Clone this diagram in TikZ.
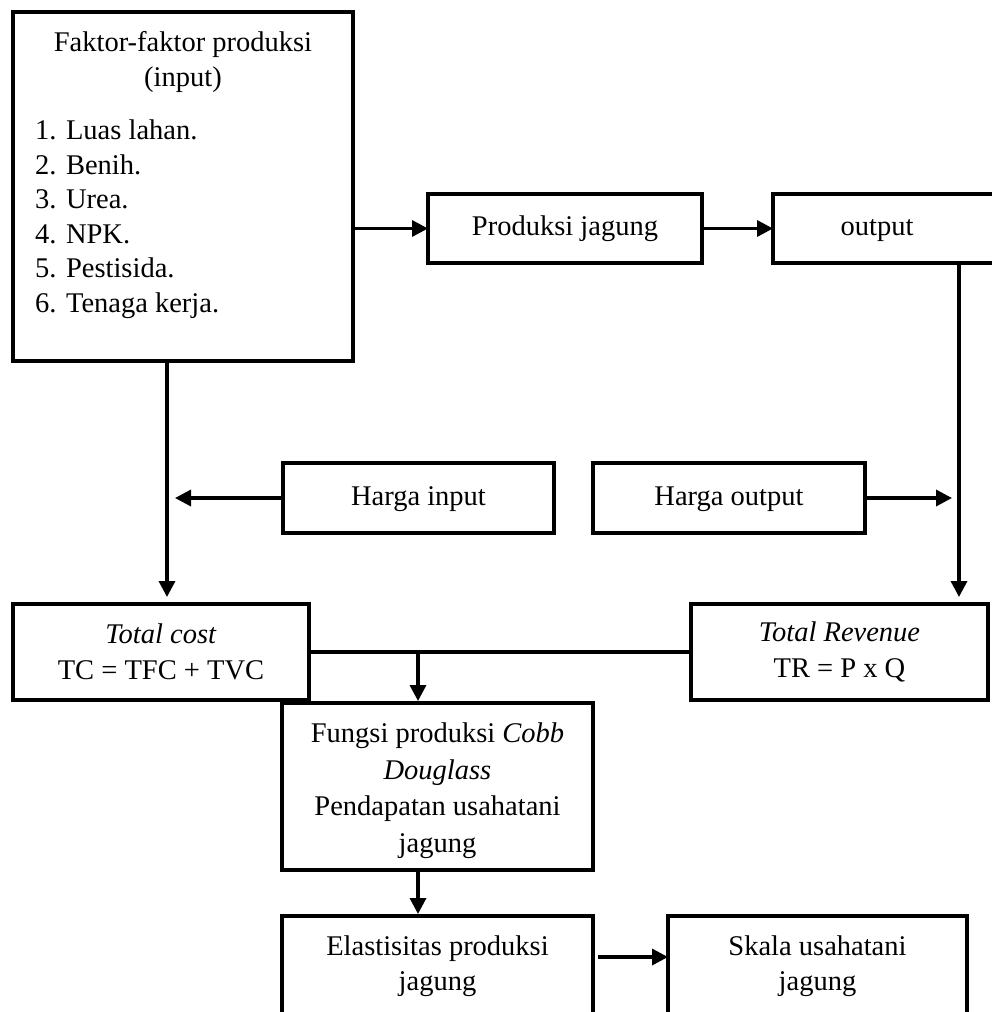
\documentclass[tikz,border=0pt]{standalone}
\usepackage{fontspec}
\setmainfont{Liberation Serif}
\usetikzlibrary{arrows.meta}
\begin{document}
\begin{tikzpicture}[x=1pt,y=-1pt,
  box/.style={draw, line width=3.7pt, inner sep=0pt, outer sep=0pt, align=center,
              font=\fontsize{28.5pt}{35.5pt}\selectfont},
  txt/.style={inner sep=0pt, font=\fontsize{28.5pt}{34.5pt}\selectfont},
  arr/.style={line width=3.4pt, -{Triangle[length=16pt,width=16pt]}},
  ln/.style={line width=3.4pt}]
\useasboundingbox (0,0) rectangle (992,1012);
\fill[white] (0,0) rectangle (992,1012);
% boxes
\node[box, minimum width=340pt, minimum height=349pt] (A) at (183,186.5) {};
\node[txt, align=center] (At) at (183,62) {Faktor-faktor produksi\\(input)};
\node[txt, align=left, anchor=west] (Al) at (35,219) {1. Luas lahan.\\2. Benih.\\3. Urea.\\4. NPK.\\5. Pestisida.\\6. Tenaga kerja.};
\node[box, minimum width=274pt, minimum height=69pt] (P) at (565,228.5) {\strut Produksi jagung};
\node[box, minimum width=237pt, minimum height=69pt] (O) at (891.5,228.5) {\strut output\hspace*{29pt}};
\node[box, minimum width=271pt, minimum height=70pt] (HI) at (418.5,498) {\strut Harga input};
\node[box, minimum width=272pt, minimum height=70pt] (HO) at (729,498) {\strut Harga output};
\node[box, minimum width=296pt, minimum height=96pt] (TC) at (161,652) {\textit{Total cost}\\TC = TFC + TVC};
\node[box, minimum width=297pt, minimum height=96pt] (TR) at (839.5,652) {\textit{Total Revenue}\\TR = P x Q};
\node[box, minimum width=311pt, minimum height=167pt, font=\fontsize{28.5pt}{36.5pt}\selectfont] (F) at (437.5,786.5) {\raisebox{-4pt}[\height][\depth]{\parbox{311pt}{\centering Fungsi produksi \textit{Cobb}\\\textit{Douglass}\\Pendapatan usahatani\\jagung}}};
\node[box, minimum width=311pt, minimum height=100pt] (E) at (437.5,966) {Elastisitas produksi\\jagung};
\node[box, minimum width=299pt, minimum height=100pt] (S) at (817.5,966) {Skala usahatani\\jagung};
% helper coordinates
\coordinate (ac) at (167,0);
\coordinate (oc) at (959,0);
\coordinate (jc) at (418,652);
\coordinate (ey) at (0,957);
% connectors
\draw[arr] (P.west -| A.east) -- (P.west);
\draw[arr] (P.east) -- (O.west);
\draw[arr, shorten >=7pt] (A.south -| ac) -- (TC.north -| ac);
\draw[arr, shorten >=7pt] (O.south -| oc) -- (TR.north -| oc);
\draw[arr, shorten >=8pt] (HI.west) -- (HI.west -| ac);
\draw[arr, shorten >=7pt] (HO.east) -- (HO.east -| oc);
\draw[ln] (TC.east) -- (TR.west);
\draw[arr, shorten >=2pt] (jc) -- (jc |- F.north);
\draw[arr, shorten >=2pt] (F.south -| jc) -- (E.north -| jc);
\draw[arr, shorten <=5pt] (E.east |- ey) -- (S.west |- ey);
\end{tikzpicture}
\end{document}
